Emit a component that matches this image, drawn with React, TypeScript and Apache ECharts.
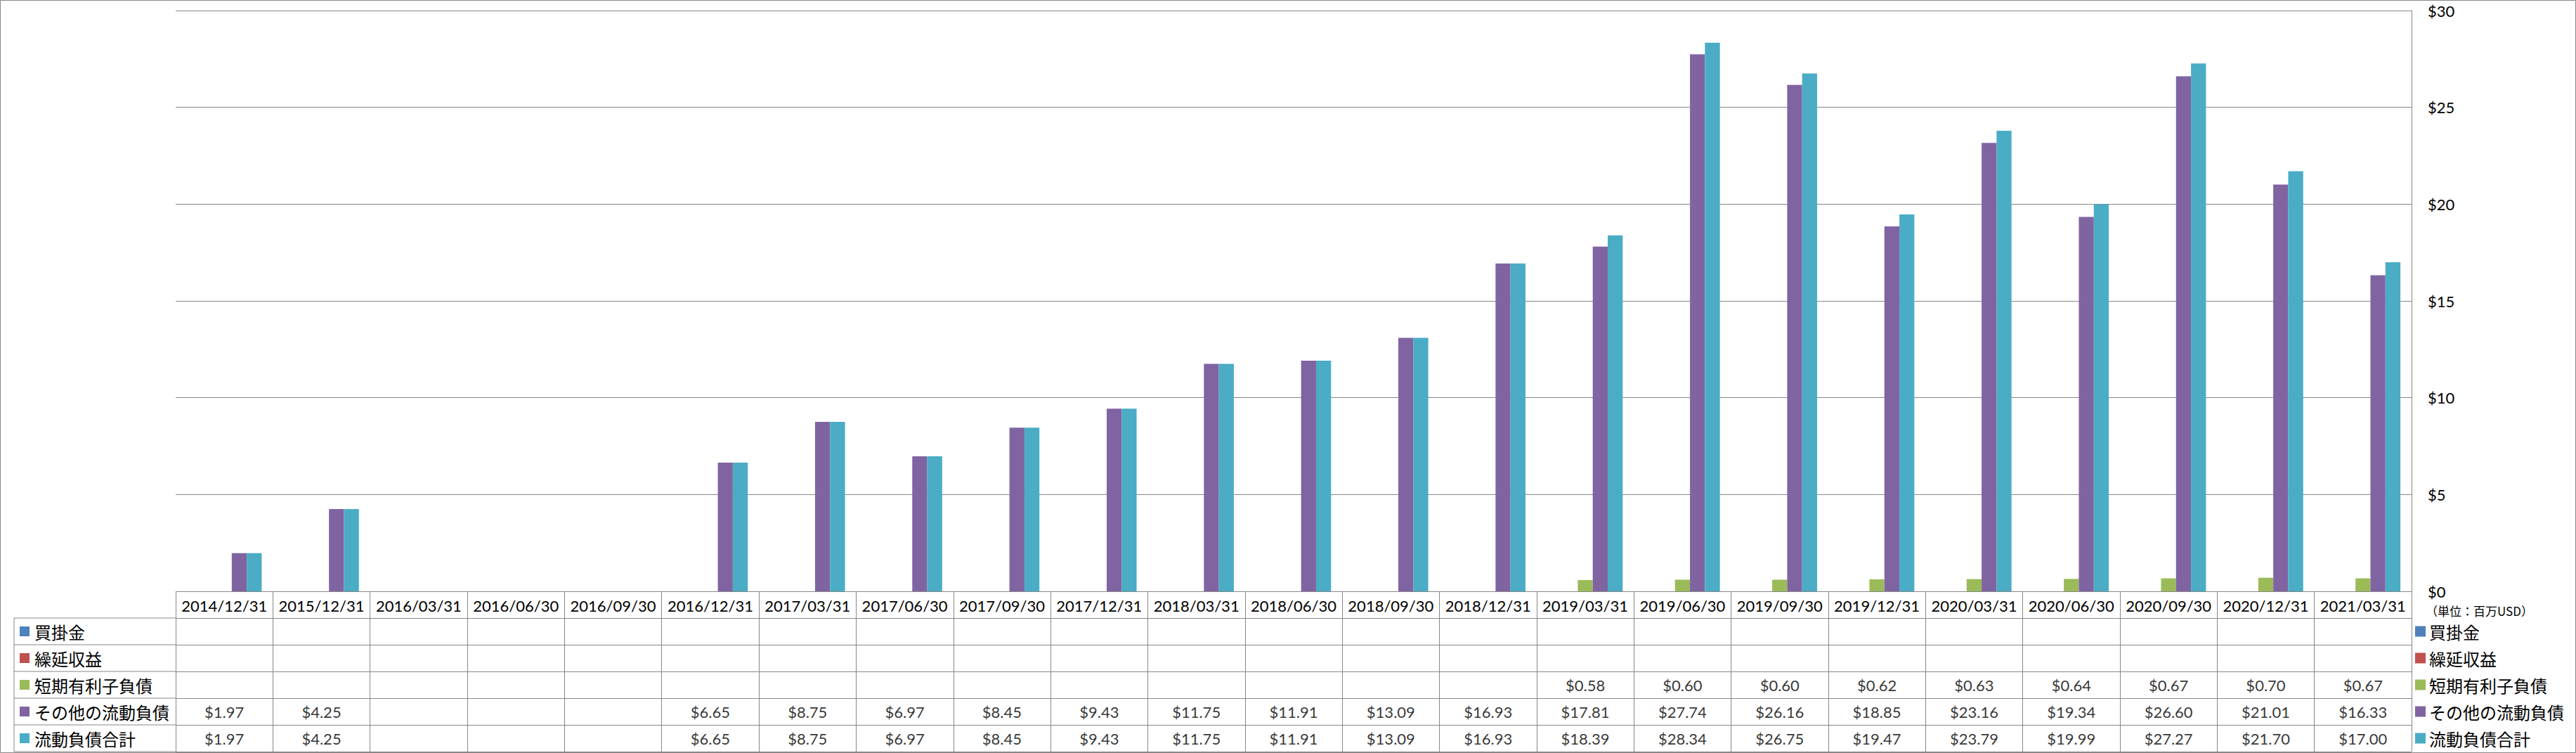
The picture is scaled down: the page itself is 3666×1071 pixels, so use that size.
import React, { useEffect, useRef } from "react";
import * as echarts from "echarts";

const categories = [
  "2014/12/31", "2015/12/31", "2016/03/31", "2016/06/30", "2016/09/30", "2016/12/31",
  "2017/03/31", "2017/06/30", "2017/09/30", "2017/12/31", "2018/03/31", "2018/06/30",
  "2018/09/30", "2018/12/31", "2019/03/31", "2019/06/30", "2019/09/30", "2019/12/31",
  "2020/03/31", "2020/06/30", "2020/09/30", "2020/12/31", "2021/03/31",
];

const seriesNames = ["買掛金", "繰延収益", "短期有利子負債", "その他の流動負債", "流動負債合計"];
const seriesColors = ["#4F81BD", "#C0504D", "#9BBB59", "#8064A2", "#4BACC6"];

const accountsPayable: (number | null)[] = [
  null, null, null, null, null, null, null, null, null, null, null, null,
  null, null, null, null, null, null, null, null, null, null, null,
];
const deferredRevenue: (number | null)[] = [
  null, null, null, null, null, null, null, null, null, null, null, null,
  null, null, null, null, null, null, null, null, null, null, null,
];
const shortTermDebt: (number | null)[] = [
  null, null, null, null, null, null, null, null, null, null, null, null,
  null, null, 0.58, 0.6, 0.6, 0.62, 0.63, 0.64, 0.67, 0.7, 0.67,
];
const otherCurrent: (number | null)[] = [
  1.97, 4.25, null, null, null, 6.65, 8.75, 6.97, 8.45, 9.43, 11.75, 11.91,
  13.09, 16.93, 17.81, 27.74, 26.16, 18.85, 23.16, 19.34, 26.6, 21.01, 16.33,
];
const totalCurrent: (number | null)[] = [
  1.97, 4.25, null, null, null, 6.65, 8.75, 6.97, 8.45, 9.43, 11.75, 11.91,
  13.09, 16.93, 18.39, 28.34, 26.75, 19.47, 23.79, 19.99, 27.27, 21.7, 17.0,
];
const seriesValues = [accountsPayable, deferredRevenue, shortTermDebt, otherCurrent, totalCurrent];

const yTicks = { min: 0, max: 30, interval: 5 };
const unitLabel = "（単位：百万USD）";

const W = 3666;
const H = 1071;
const GRID_LEFT = 250;
const GRID_RIGHT = 234;
const GRID_TOP = 15;
const AXIS_Y = 841;
const ROW_H = 38;
const TABLE_BOTTOM = AXIS_Y + ROW_H * 6;
const LEGEND_COL_X = 20;
const GRAY = "#878787";
const LATIN = "Lato, 'Noto Sans CJK JP', sans-serif";
const CJK = "'Noto Sans CJK JP', sans-serif";

export default function App() {
  const ref = useRef<HTMLDivElement>(null);

  useEffect(() => {
    if (!ref.current) return;
    const chart = echarts.init(ref.current, undefined, { renderer: "svg" });

    const rowCats = [""].concat(seriesNames);
    const rich: Record<string, any> = {
      t: { fontFamily: CJK, fontSize: 24, color: "#000", padding: [0, 0, 0, 7] },
    };
    seriesColors.forEach((c, i) => {
      rich["s" + i] = { width: 14, height: 14, backgroundColor: c };
    });

    const tableData: any[] = [];
    seriesValues.forEach((vals, si) => {
      vals.forEach((v, ci) => {
        if (v !== null && v !== undefined) tableData.push([ci, seriesNames[si], v]);
      });
    });

    const graphics: any[] = [
      {
        type: "rect",
        shape: { x: 0.5, y: 0.5, width: W - 1, height: H - 1 },
        style: { fill: "none", stroke: GRAY, lineWidth: 1 },
        silent: true,
      },
      {
        type: "line",
        shape: { x1: LEGEND_COL_X, y1: AXIS_Y + ROW_H, x2: LEGEND_COL_X, y2: TABLE_BOTTOM },
        style: { stroke: GRAY, lineWidth: 1 },
      },
      {
        type: "text",
        x: 3452,
        y: 868,
        style: {
          text: unitLabel,
          font: `17px ${CJK}`,
          fill: "#000",
          align: "left",
          verticalAlign: "middle",
        },
      },
    ];
    for (let k = 1; k <= 6; k++) {
      const y = AXIS_Y + ROW_H * k;
      graphics.push({
        type: "line",
        shape: { x1: LEGEND_COL_X, y1: y, x2: GRID_LEFT, y2: y },
        style: { stroke: GRAY, lineWidth: 1 },
      });
    }

    chart.setOption({
      animation: false,
      backgroundColor: "#ffffff",
      textStyle: { fontFamily: LATIN },
      grid: [
        { left: GRID_LEFT, right: GRID_RIGHT, top: GRID_TOP, height: AXIS_Y - GRID_TOP },
        { left: GRID_LEFT, right: GRID_RIGHT, top: AXIS_Y, height: ROW_H * 6 },
      ],
      legend: {
        orient: "vertical",
        left: 3437,
        top: AXIS_Y + ROW_H + 5,
        padding: 0,
        itemWidth: 15,
        itemHeight: 15,
        itemGap: 10,
        icon: "rect",
        data: seriesNames,
        textStyle: { fontFamily: CJK, fontSize: 24, color: "#000", lineHeight: 28 },
      },
      xAxis: [
        {
          type: "category",
          gridIndex: 0,
          data: categories,
          axisLine: { show: false },
          axisTick: { show: false },
          splitLine: { show: false },
          axisLabel: {
            interval: 0,
            margin: 8,
            fontFamily: LATIN,
            fontSize: 22,
            lineHeight: 24,
            color: "#000",
          },
        },
        {
          type: "category",
          gridIndex: 1,
          data: categories,
          axisLine: { show: false },
          axisTick: { show: false },
          axisLabel: { show: false },
          splitLine: { show: true, interval: 0, lineStyle: { color: GRAY, width: 1 } },
        },
      ],
      yAxis: [
        {
          type: "value",
          gridIndex: 0,
          position: "right",
          min: yTicks.min,
          max: yTicks.max,
          interval: yTicks.interval,
          axisLine: { show: true, lineStyle: { color: GRAY, width: 1 } },
          axisTick: { show: false },
          splitLine: { show: true, lineStyle: { color: GRAY, width: 1 } },
          axisLabel: {
            margin: 23,
            fontFamily: LATIN,
            fontSize: 22,
            color: "#000",
            formatter: (v: number) => "$" + v,
          },
        },
        {
          type: "category",
          gridIndex: 1,
          data: rowCats,
          inverse: true,
          axisLine: { show: false },
          axisTick: { show: false },
          splitLine: { show: true, interval: 0, lineStyle: { color: GRAY, width: 1 } },
          axisLabel: {
            interval: 0,
            align: "left",
            margin: GRID_LEFT - 28,
            formatter: (name: string) => {
              const i = seriesNames.indexOf(name);
              if (i < 0) return "";
              return `{s${i}|}{t|${name}}`;
            },
            rich,
          },
        },
      ],
      series: [
        ...seriesNames.map((name, i) => ({
          name,
          type: "bar",
          xAxisIndex: 0,
          yAxisIndex: 0,
          data: seriesValues[i],
          barGap: "0%",
          barCategoryGap: "23%",
          itemStyle: { color: seriesColors[i] },
        })),
        {
          name: "table",
          type: "scatter",
          xAxisIndex: 1,
          yAxisIndex: 1,
          data: tableData,
          symbolSize: 1,
          itemStyle: { color: "rgba(0,0,0,0)" },
          silent: true,
          label: {
            show: true,
            position: "inside",
            fontFamily: LATIN,
            fontSize: 22,
            color: "#000",
            formatter: (p: any) => "$" + Number(p.value[2]).toFixed(2),
          },
        },
      ],
      graphic: graphics,
    });

    return () => chart.dispose();
  }, []);

  return (
    <div
      ref={ref}
      style={{ position: "fixed", left: 0, top: 0, width: W, height: H, background: "#fff" }}
    />
  );
}
